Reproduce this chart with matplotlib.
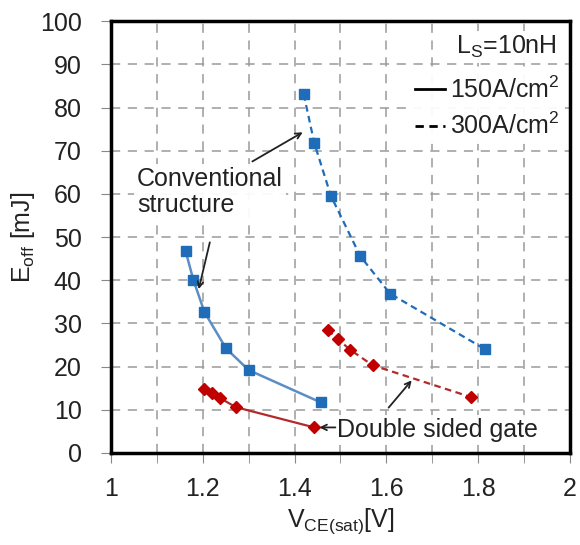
import numpy as np
import matplotlib.pyplot as plt
from matplotlib.lines import Line2D
from matplotlib.ticker import MultipleLocator

plt.rcParams['font.family'] = ['Liberation Sans', 'DejaVu Sans']
plt.rcParams['mathtext.fontset'] = 'custom'
plt.rcParams['mathtext.rm'] = 'Liberation Sans'

# Conventional structure
conv_v150 = [1.163, 1.180, 1.204, 1.251, 1.300, 1.457]
conv_e150 = [46.7, 40.0, 32.6, 24.2, 19.2, 11.7]
conv_v300 = [1.420, 1.443, 1.479, 1.543, 1.608, 1.815]
conv_e300 = [83.1, 71.8, 59.6, 45.6, 36.9, 24.0]

# Double sided gate
dsg_v150 = [1.203, 1.221, 1.238, 1.272, 1.443]
dsg_e150 = [14.8, 13.9, 12.7, 10.6, 5.9]
dsg_v300 = [1.472, 1.495, 1.521, 1.570, 1.785]
dsg_e300 = [28.5, 26.3, 23.9, 20.3, 12.9]

x_ticks = [1, 1.2, 1.4, 1.6, 1.8, 2]
x_labels = ['1', '1.2', '1.4', '1.6', '1.8', '2']

blue_line = '#5b8ec4'
blue_mark = '#1f6cb8'
red_line = '#b22a2a'
red_mark = '#c00000'
txt = '#222222'
fs = 18

fig = plt.figure(figsize=(5.8, 5.45), dpi=100)
ax = fig.add_axes([0.191, 0.169, 0.792, 0.792])

ax.plot(conv_v150, conv_e150, '-', color=blue_line, lw=1.8, marker='s', ms=7.5,
        mfc=blue_mark, mec=blue_mark, zorder=4)
ax.plot(conv_v300, conv_e300, '--', color=blue_mark, lw=1.6, dashes=(3, 2), marker='s', ms=7.5,
        mfc=blue_mark, mec=blue_mark, zorder=4)
ax.plot(dsg_v150, dsg_e150, '-', color=red_line, lw=1.6, marker='D', ms=6,
        mfc=red_mark, mec=red_mark, zorder=4)
ax.plot(dsg_v300, dsg_e300, '--', color=red_line, lw=1.6, dashes=(3, 2), marker='D', ms=6,
        mfc=red_mark, mec=red_mark, zorder=4)

ax.set_xlim(1, 2)
ax.set_ylim(0, 100)
ax.set_xticks(x_ticks)
ax.set_xticklabels(x_labels)
ax.xaxis.set_minor_locator(MultipleLocator(0.1))
ax.yaxis.set_major_locator(MultipleLocator(10))

ax.grid(True, which='both', axis='x', color='#9a9a9a', ls=(0, (6, 5)), lw=1.1, zorder=0)
ax.grid(True, which='major', axis='y', color='#9a9a9a', ls=(0, (6, 5)), lw=1.1, zorder=0)
ax.tick_params(which='both', direction='out', length=7, color='#888888', labelsize=fs,
               labelcolor=txt)
ax.tick_params(axis='x', pad=10)
ax.tick_params(axis='y', pad=14)
for s in ax.spines.values():
    s.set_linewidth(2.5)
    s.set_color('black')

ax.set_xlabel(r'V$_\mathregular{CE(sat)}$[V]', fontsize=fs, color=txt, labelpad=4)
ax.set_ylabel(r'E$_\mathregular{off}$ [mJ]', fontsize=fs, color=txt, labelpad=2)

box = dict(facecolor='white', edgecolor='none', pad=2, alpha=0.95)
ax.text(1.057, 60.5, 'Conventional\nstructure', fontsize=fs, ha='left', va='center',
        linespacing=1.1, color=txt, bbox=box, zorder=5)
arrow = dict(arrowstyle='->', color=txt, lw=1.3)
ax.annotate('', xy=(1.423, 74.6), xytext=(1.303, 67.2), arrowprops=arrow, zorder=6)
ax.annotate('', xy=(1.190, 37.3), xytext=(1.217, 49.4), arrowprops=arrow, zorder=6)

ax.text(1.493, 5.3, 'Double sided gate', fontsize=fs, ha='left', va='center',
        color=txt, bbox=box, zorder=5)
ax.annotate('', xy=(1.448, 5.9), xytext=(1.495, 5.9), arrowprops=arrow, zorder=6)
ax.annotate('', xy=(1.659, 17.3), xytext=(1.601, 10.0), arrowprops=arrow, zorder=6)

# legend block in the upper right corner
ax.text(0.861, 0.941, r'L$_\mathregular{S}$=10nH', transform=ax.transAxes, fontsize=fs,
        ha='center', va='center', color=txt, bbox=box, zorder=5)
handles = [Line2D([], [], color='black', lw=2, ls='-'),
           Line2D([], [], color='black', lw=2, ls=(0, (3, 2)))]
leg = ax.legend(handles, ['150A/cm$^2$', '300A/cm$^2$'], loc='upper right',
                bbox_to_anchor=(1.0, 0.895), frameon=True, fontsize=fs, handlelength=1.2,
                handletextpad=0.2, borderpad=0.2, labelspacing=0.4, borderaxespad=0.2,
                labelcolor=txt)
leg.get_frame().set_edgecolor('none')
leg.get_frame().set_facecolor('white')
leg.get_frame().set_alpha(0.95)
leg.set_zorder(5)

fig.savefig('out.png', dpi=100)
